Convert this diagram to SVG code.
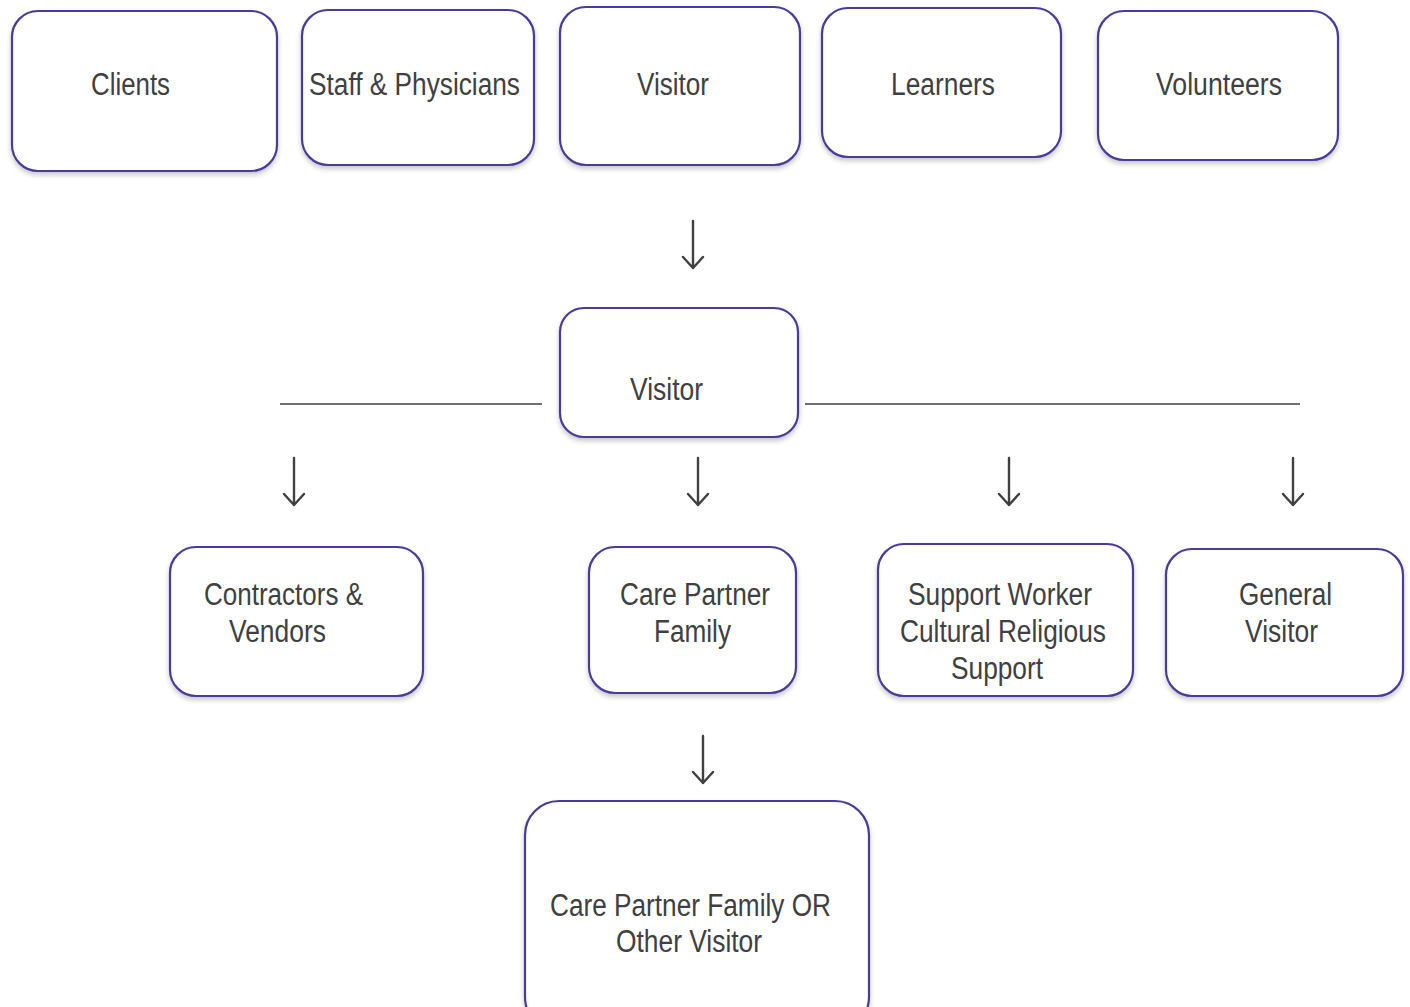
<svg xmlns="http://www.w3.org/2000/svg" width="1410" height="1007" viewBox="0 0 1410 1007">
<style>
.box{fill:#fff;stroke:#4a3a99;stroke-width:2.2;filter:url(#sh)}
.t{font-family:"Liberation Sans",Arial,sans-serif;font-size:31px;fill:#404040;text-anchor:middle}
.ln{stroke:#404040;stroke-width:1.3;fill:none}
.ar{stroke:#404040;stroke-width:2.4;fill:none;stroke-linecap:round;stroke-linejoin:round}
</style>
<defs>
<filter id="sh" x="-10%" y="-10%" width="120%" height="130%">
<feDropShadow dx="0" dy="3" stdDeviation="2.5" flood-color="#000" flood-opacity="0.22"/>
</filter>
</defs>
<rect width="1410" height="1007" fill="#fff"/>
<g id="connectors">
<line class="ln" x1="280" y1="404" x2="542" y2="404"/>
<line class="ln" x1="805" y1="404" x2="1300" y2="404"/>
<path class="ar" d="M693 221 V268 M683 257 L693 268 L703 257"/>
<path class="ar" d="M294 458 V505 M284 494 L294 505 L304 494"/>
<path class="ar" d="M698 458 V505 M688 494 L698 505 L708 494"/>
<path class="ar" d="M1009 458 V505 M999 494 L1009 505 L1019 494"/>
<path class="ar" d="M1293 458 V505 M1283 494 L1293 505 L1303 494"/>
<path class="ar" d="M703 736 V783 M693 772 L703 783 L713 772"/>
</g>
<g id="clients"><rect class="box" x="12" y="11" width="265" height="160" rx="26"/><text class="t" x="130.5" y="95" textLength="79" lengthAdjust="spacingAndGlyphs">Clients</text></g>
<g id="staff"><rect class="box" x="302" y="10" width="232" height="155" rx="26"/><text class="t" x="414.5" y="95" textLength="211" lengthAdjust="spacingAndGlyphs">Staff &amp; Physicians</text></g>
<g id="visitor-top"><rect class="box" x="560" y="7" width="240" height="158" rx="26"/><text class="t" x="673" y="95" textLength="72" lengthAdjust="spacingAndGlyphs">Visitor</text></g>
<g id="learners"><rect class="box" x="822" y="8" width="239" height="149" rx="26"/><text class="t" x="943" y="95" textLength="104" lengthAdjust="spacingAndGlyphs">Learners</text></g>
<g id="volunteers"><rect class="box" x="1098" y="11" width="240" height="149" rx="26"/><text class="t" x="1219" y="95" textLength="126" lengthAdjust="spacingAndGlyphs">Volunteers</text></g>
<g id="visitor-mid"><rect class="box" x="560" y="308" width="238" height="129" rx="24"/><text class="t" x="666.5" y="400" textLength="73" lengthAdjust="spacingAndGlyphs">Visitor</text></g>
<g id="contractors"><rect class="box" x="170" y="547" width="253" height="149" rx="26"/><text class="t" x="283.5" y="605" textLength="159" lengthAdjust="spacingAndGlyphs">Contractors &amp;</text><text class="t" x="277.5" y="642" textLength="97" lengthAdjust="spacingAndGlyphs">Vendors</text></g>
<g id="care-partner"><rect class="box" x="589" y="547" width="207" height="146" rx="26"/><text class="t" x="695" y="605" textLength="150" lengthAdjust="spacingAndGlyphs">Care Partner</text><text class="t" x="692.5" y="642" textLength="77" lengthAdjust="spacingAndGlyphs">Family</text></g>
<g id="support-worker"><rect class="box" x="878" y="544" width="255" height="152" rx="26"/><text class="t" x="1000" y="605" textLength="184" lengthAdjust="spacingAndGlyphs">Support Worker</text><text class="t" x="1003" y="642" textLength="206" lengthAdjust="spacingAndGlyphs">Cultural Religious</text><text class="t" x="997" y="679" textLength="92" lengthAdjust="spacingAndGlyphs">Support</text></g>
<g id="general-visitor"><rect class="box" x="1166" y="549" width="237" height="147" rx="26"/><text class="t" x="1285.5" y="605" textLength="93" lengthAdjust="spacingAndGlyphs">General</text><text class="t" x="1281.5" y="642" textLength="73" lengthAdjust="spacingAndGlyphs">Visitor</text></g>
<g id="care-partner-or"><rect class="box" x="525" y="801" width="344" height="230" rx="34"/><text class="t" x="690.5" y="916" textLength="281" lengthAdjust="spacingAndGlyphs">Care Partner Family OR</text><text class="t" x="689" y="952" textLength="146" lengthAdjust="spacingAndGlyphs">Other Visitor</text></g>
</svg>
